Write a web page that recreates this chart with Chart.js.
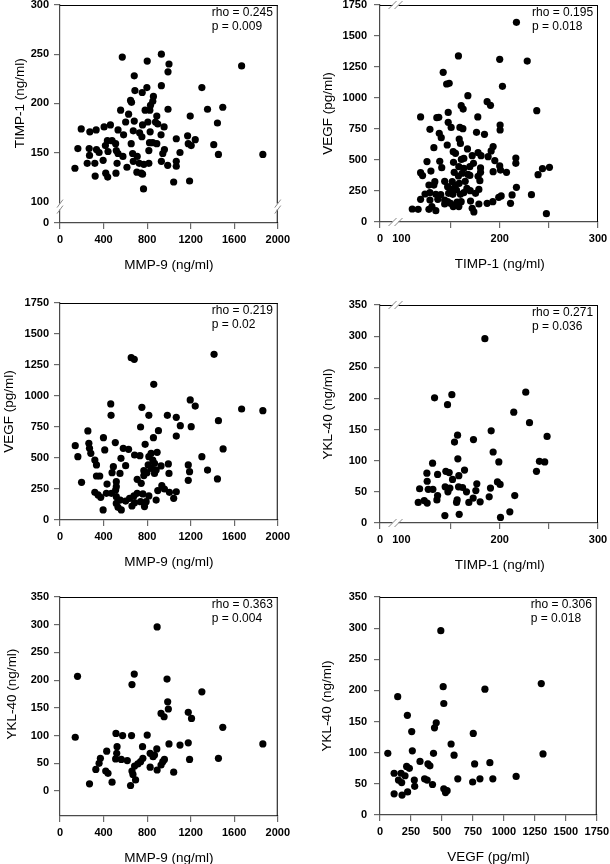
<!DOCTYPE html>
<html><head><meta charset="utf-8">
<script src="https://cdn.jsdelivr.net/npm/chart.js@4.4.1/dist/chart.umd.min.js"></script>
<style>
html,body{margin:0;padding:0;background:#fff;width:610px;height:864px;overflow:hidden;position:relative}
canvas{position:absolute}
</style></head><body>
<script>
// ---------- DATA ----------
// Panel 1: MMP-9 (x) vs TIMP-1 (y)
const p1MMP9 = [572,801,931,1001,992,682,1668,688,755,798,931,1303,858,852,648,657,831,557,782,825,992,1355,1495,1196,630,889,682,603,758,807,877,898,956,1446,195,274,332,405,463,533,673,731,584,752,828,928,1068,1172,1242,435,478,511,417,654,822,852,889,1178,1205,1412,164,268,335,359,441,517,533,667,816,959,944,1102,271,578,709,1455,1863,250,320,396,524,673,728,770,816,931,989,1068,1068,137,615,323,420,438,514,706,746,758,1044,1190,767];
const p1TIMP1 = [247,243,250,240,232,228,238,213,211,216,218,216,207,202,203,201,198,193,193,193,194,194,196,187,189,187,182,181,178,181,181,179,176,180,174,171,173,176,178,173,172,170,168,166,171,168,164,167,163,162,162,159,157,159,160,160,159,159,157,158,154,154,153,150,151,152,149,149,152,153,149,150,147,146,146,148,148,139,139,142,139,141,139,138,139,141,137,141,136,134,135,126,129,125,129,130,129,128,120,121,113];

// Panel 2: TIMP-1 (x) vs VEGF (y)
const p2TIMP1 = [217,158,200,228,142.5,146,148.6,202.8,167.6,187.2,190.6,160.8,162.8,237.7,119.5,136,138,147.6,177.7,147.6,150.6,159.5,162.5,200.4,200.4,129,138.5,140.5,176.4,184.5,158.8,160,146.6,133,167.2,193.3,152.7,155,172,178,181,191.3,188.2,195,216.4,216.4,126,139,141,161,163.5,153,158.4,163.5,169.6,173.3,180.5,180.5,200,200.8,206.9,193.3,119.5,121.5,130,153.7,158,161.8,167.6,169.6,178,239,243.5,250.6,134,144,151.7,164.9,154.7,158.8,179.8,128,133,217,147,150.6,156,166.6,170,178.8,124,129,135,140,148,152.3,160,163.5,175.4,212.6,232.3,201.5,119.5,129,137,144,147,150,156.7,160.8,170.3,178.8,187.2,193,199,211,111,117,128,135,152.7,158.4,172,173.7,247.5,131,144];
const p2VEGF = [1610,1339,1312,1298,1207,1113,1118,1094,1019,970,941,938,911,898,847,841,844,884,847,804,763,763,753,782,742,747,715,680,723,707,669,634,621,599,589,608,567,554,535,559,535,573,527,495,516,473,487,489,438,505,513,481,446,433,446,473,436,401,452,419,401,406,398,374,411,401,371,393,384,376,368,382,430,441,325,328,325,328,296,312,333,298,298,280,285,263,258,272,253,263,226,237,223,220,231,223,223,237,231,218,220,210,183,177,183,177,164,151,161,164,169,145,151,164,199,151,105,102,102,91,124,124,110,81,67,124,145];

// Panel 3: MMP-9 (x) vs VEGF (y)
const p3MMP9 = [654,682,1415,861,1196,1242,1668,1863,466,752,469,816,986,1068,1105,1205,1455,740,904,256,399,858,1068,508,782,140,265,271,411,581,630,164,283,320,335,685,734,837,892,816,852,868,560,603,490,478,810,770,837,883,928,995,1001,1178,1190,1303,1498,1355,1446,1178,335,365,198,709,551,517,432,746,770,798,868,935,959,1005,1068,1044,898,883,816,761,709,679,639,603,554,517,472,426,374,320,350,511,517,776,661,563,396,533,685,791,740,517];
const p3VEGF = [1309,1296,1336,1094,968,919,895,882,936,909,844,844,844,828,761,753,801,750,720,718,664,664,677,624,610,599,618,578,565,578,570,511,538,484,444,524,519,538,546,511,484,457,497,438,430,382,444,398,417,403,436,452,376,444,390,511,573,403,331,320,355,355,304,328,376,309,290,296,358,382,376,277,250,223,228,175,237,161,194,210,215,194,175,153,161,134,215,215,183,223,202,242,188,108,113,81,81,102,140,148,148,269];

// Panel 4: TIMP-1 (x) vs YKL-40 (y)
const p4TIMP1 = [184.9,226.5,133.7,151.3,146.9,214.3,230.3,191.3,248.2,157.1,154,173.3,193.3,199.1,157.4,131.7,240.4,245.8,237.4,125.9,136.8,145.2,148.6,164.2,158.4,152,126.2,118.5,127.3,132,144.5,149.3,147.3,158.1,162.2,166.2,176.7,175.7,190.6,197.7,200.4,136.8,136.1,117.1,123.2,126.2,156.7,156.1,168.6,173,180.1,189.3,215.3,144.2,158.8,200.8,210.3];
const p4YKL40 = [296,210,201,206,190,178,161,148,139,141,130,134,114,98,103,96,99,98,83,80,78,83,81,85,76,70,67,55,54,54,58,56,50,58,57,50,63,52,56,66,62,44,37,33,36,32,37,33,33,40,34,42,44,12,14,9,18];

// Panel 5: MMP-9 (x) vs YKL-40 (y)
const p5MMP9 = [892,161,682,661,983,1303,989,995,928,956,1178,1208,1495,140,514,575,657,801,1863,758,1001,1102,1178,524,429,521,511,563,618,828,868,889,855,959,761,740,371,359,329,420,441,685,715,661,670,828,892,928,944,1044,1190,1455,271,478,694,648];
const p5YKL40 = [296,207,211,192,202,179,161,148,140,134,142,131,115,97,104,100,100,101,85,80,85,83,87,80,72,68,58,57,55,68,65,76,62,57,59,53,59,50,39,36,32,45,49,36,30,43,38,47,53,34,57,59,13,16,20,10];

// Panel 6: VEGF (x) vs YKL-40 (y)
const p6VEGF = [491,1302,510,847,143,515,221,454,440,256,753,574,63,261,432,598,1316,323,387,403,215,237,764,887,114,170,202,277,360,381,424,149,175,280,628,748,807,911,1099,515,542,529,114,178,223];
const p6YKL40 = [296,211,206,202,190,179,160,148,140,134,131,114,99,103,99,96,98,86,82,79,78,75,82,84,67,67,63,56,58,56,49,56,52,46,58,53,58,58,62,42,39,36,34,32,37];

// Statistics text
const rhoText = ['rho = 0.245','rho = 0.195','rho = 0.219','rho = 0.271','rho = 0.363','rho = 0.306'];
const pText   = ['p = 0.009','p = 0.018','p = 0.02','p = 0.036','p = 0.004','p = 0.018'];

// Axis titles
const xTitles = ['MMP-9 (ng/ml)','TIMP-1 (ng/ml)','MMP-9 (ng/ml)','TIMP-1 (ng/ml)','MMP-9 (ng/ml)','VEGF (pg/ml)'];
const yTitles = ['TIMP-1 (ng/ml)','VEGF (pg/ml)','VEGF (pg/ml)','YKL-40 (ng/ml)','YKL-40 (ng/ml)','YKL-40 (ng/ml)'];

// Tick values and labels
const mmp9Ticks = [0,400,800,1200,1600,2000];
const mmp9Labels = ['0','400','800','1200','1600','2000'];
const timp1BrokenTicks = [100,150,200,250,300];        // after the axis break
const timp1BrokenXLabels = ['100','','200','','300'];
const timp1BrokenYLabels = ['100','150','200','250','300'];
const vegfTicks = [0,250,500,750,1000,1250,1500,1750];
const vegfLabels = ['0','250','500','750','1000','1250','1500','1750'];
const ykl40Ticks = [0,50,100,150,200,250,300,350];
const ykl40Labels = ['0','50','100','150','200','250','300','350'];
// scale position where the "0" of a broken TIMP-1 axis is placed
const timp1ZeroAtY = 78.3;
const timp1ZeroAtX = 78.2;

// ---------- BUILD ----------
const FONT = "'Liberation Sans', Arial, Helvetica, sans-serif";

const framePlugin = {
  id: 'frame',
  afterDraw(chart, args, o) {
    const {ctx, chartArea: a} = chart;
    const x = chart.scales.x, y = chart.scales.y;
    ctx.save();
    ctx.strokeStyle = '#000'; ctx.lineWidth = 1;
    ctx.beginPath();
    ctx.moveTo(a.left, a.top + 0.5); ctx.lineTo(a.right, a.top + 0.5);
    ctx.moveTo(a.right - 0.5, a.top); ctx.lineTo(a.right - 0.5, a.bottom);
    ctx.stroke();
    for (const b of (o.breaks || [])) {
      ctx.lineWidth = 1; ctx.strokeStyle = '#8a8a8a';
      if (b.axis === 'y') {
        const Y = y.getPixelForValue(b.value);
        for (const X of [a.left, a.right]) {
          ctx.fillStyle = '#fff'; ctx.fillRect(X - 2, Y - 3, 4, 6);
          ctx.beginPath();
          for (const d of [-3, 3]) { ctx.moveTo(X - 3, Y + d + 4); ctx.lineTo(X + 3, Y + d - 4); }
          ctx.stroke();
        }
      } else {
        const X = x.getPixelForValue(b.value);
        for (const Y of [a.top, a.bottom]) {
          ctx.fillStyle = '#fff'; ctx.fillRect(X - 3, Y - 2, 6, 4);
          ctx.beginPath();
          for (const d of [-3, 3]) { ctx.moveTo(X + d - 4, Y + 4); ctx.lineTo(X + d + 4, Y - 4); }
          ctx.stroke();
        }
      }
    }
    ctx.fillStyle = '#000';
    ctx.font = '12px ' + FONT; ctx.textAlign = 'left'; ctx.textBaseline = 'middle';
    ctx.fillText(o.rho, a.right - 66, a.top + 8);
    ctx.fillText(o.p, a.right - 66, a.top + 22);
    ctx.font = '13.5px ' + FONT; ctx.textAlign = 'center';
    const xc = (x.getPixelForValue(o.xRange[0]) + x.getPixelForValue(o.xRange[1])) / 2;
    ctx.fillText(o.xTitle, xc, a.bottom + 42);
    const yc = (y.getPixelForValue(o.yRange[0]) + y.getPixelForValue(o.yRange[1])) / 2;
    ctx.translate(o.yTitleX, yc); ctx.rotate(-Math.PI / 2);
    ctx.fillText(o.yTitle, 0, 0);
    ctx.restore();
  }
};

const axisDefs = {
  mmp9: {min: 0, max: 2000, ticks: mmp9Ticks, labels: mmp9Labels, hide: []},
  timp1X: {min: timp1ZeroAtX, max: 300, ticks: [timp1ZeroAtX, ...timp1BrokenTicks], labels: ['0', ...timp1BrokenXLabels], hide: [1]},
  timp1Y: {min: timp1ZeroAtY, max: 300, ticks: [timp1ZeroAtY, ...timp1BrokenTicks], labels: ['0', ...timp1BrokenYLabels], hide: [1]},
  vegf: {min: 0, max: 1750, ticks: vegfTicks, labels: vegfLabels, hide: []},
  ykl40: {min: 0, max: 350, ticks: ykl40Ticks, labels: ykl40Labels, hide: []},
  ykl40Low: {min: -45, max: 350, ticks: ykl40Ticks, labels: ykl40Labels, hide: []},
};

const panels = [
  {xs: p1MMP9, ys: p1TIMP1, ax: 'mmp9', ay: 'timp1Y', xRange: [0, 2000], yRange: [100, 300], breaks: [{axis: 'y', value: 95}]},
  {xs: p2TIMP1, ys: p2VEGF, ax: 'timp1X', ay: 'vegf', xRange: [100, 300], yRange: [0, 1750], breaks: [{axis: 'x', value: 94}]},
  {xs: p3MMP9, ys: p3VEGF, ax: 'mmp9', ay: 'vegf', xRange: [0, 2000], yRange: [0, 1750], breaks: []},
  {xs: p4TIMP1, ys: p4YKL40, ax: 'timp1X', ay: 'ykl40', xRange: [100, 300], yRange: [0, 350], breaks: [{axis: 'x', value: 94}]},
  {xs: p5MMP9, ys: p5YKL40, ax: 'mmp9', ay: 'ykl40Low', xRange: [0, 2000], yRange: [0, 350], breaks: []},
  {xs: p6VEGF, ys: p6YKL40, ax: 'vegf', ay: 'ykl40', xRange: [0, 1750], yRange: [0, 350], breaks: []},
];

// page geometry (pixels): column left, chart area [left, top, right, bottom], y-title x
const geometry = [
  {col: 0,   area: [60, 5, 279, 223],   yTitleX: 20, yPad: 5},
  {col: 300, area: [380, 5, 598, 222],  yTitleX: 28, yPad: 7},
  {col: 0,   area: [60, 303, 279, 520], yTitleX: 9,  yPad: 5},
  {col: 300, area: [380, 305, 598, 523], yTitleX: 28, yPad: 7},
  {col: 0,   area: [60, 597, 279, 816], yTitleX: 12.5, yPad: 5},
  {col: 300, area: [380, 597, 598, 815], yTitleX: 27, yPad: 7},
];

function scaleOpts(def, isX, g) {
  return {
    type: 'linear', min: def.min, max: def.max,
    afterBuildTicks: s => { s.ticks = def.ticks.map(v => ({value: v})); },
    afterFit: s => { if (isX) s.height = 52; else s.width = g.area[0] - g.col; },
    ticks: {
      autoSkip: false, maxRotation: 0, minRotation: 0, color: '#000',
      padding: isX ? 4 : g.yPad,
      font: {family: FONT, size: 11, weight: 'bold'},
      callback: (v, i) => def.labels[i]
    },
    grid: {
      drawOnChartArea: false, drawTicks: true, tickLength: 6, lineWidth: 1.2,
      color: c => def.hide.includes(c.index) ? 'rgba(0,0,0,0)' : '#6a6a6a',
      tickColor: c => def.hide.includes(c.index) ? 'rgba(0,0,0,0)' : '#6a6a6a'
    },
    border: {display: true, color: '#4a4a4a', width: 1.2}
  };
}

panels.forEach((p, i) => {
  const g = geometry[i];
  const [L, T, R, B] = g.area;
  const cv = document.createElement('canvas');
  const top = T - 15, w = R + 15 - g.col, h = B + 52 - top;
  cv.width = w; cv.height = h;
  cv.style.left = g.col + 'px'; cv.style.top = top + 'px';
  cv.style.width = w + 'px'; cv.style.height = h + 'px';
  document.body.appendChild(cv);
  new Chart(cv, {
    type: 'scatter',
    data: {datasets: [{
      data: p.xs.map((x, k) => ({x: x, y: p.ys[k]})),
      pointRadius: 3.6, pointHoverRadius: 3.6, pointStyle: 'circle',
      backgroundColor: '#000', borderColor: '#000', borderWidth: 0
    }]},
    options: {
      responsive: false, animation: false, devicePixelRatio: 1,
      layout: {padding: {left: 0, top: 15, right: 15, bottom: 0}},
      events: [],
      plugins: {
        legend: {display: false}, tooltip: {enabled: false},
        frame: {rho: rhoText[i], p: pText[i], xTitle: xTitles[i], yTitle: yTitles[i],
                xRange: p.xRange, yRange: p.yRange, yTitleX: g.yTitleX, breaks: p.breaks}
      },
      scales: {x: scaleOpts(axisDefs[p.ax], true, g), y: scaleOpts(axisDefs[p.ay], false, g)}
    },
    plugins: [framePlugin]
  });
});
</script>
</body></html>
